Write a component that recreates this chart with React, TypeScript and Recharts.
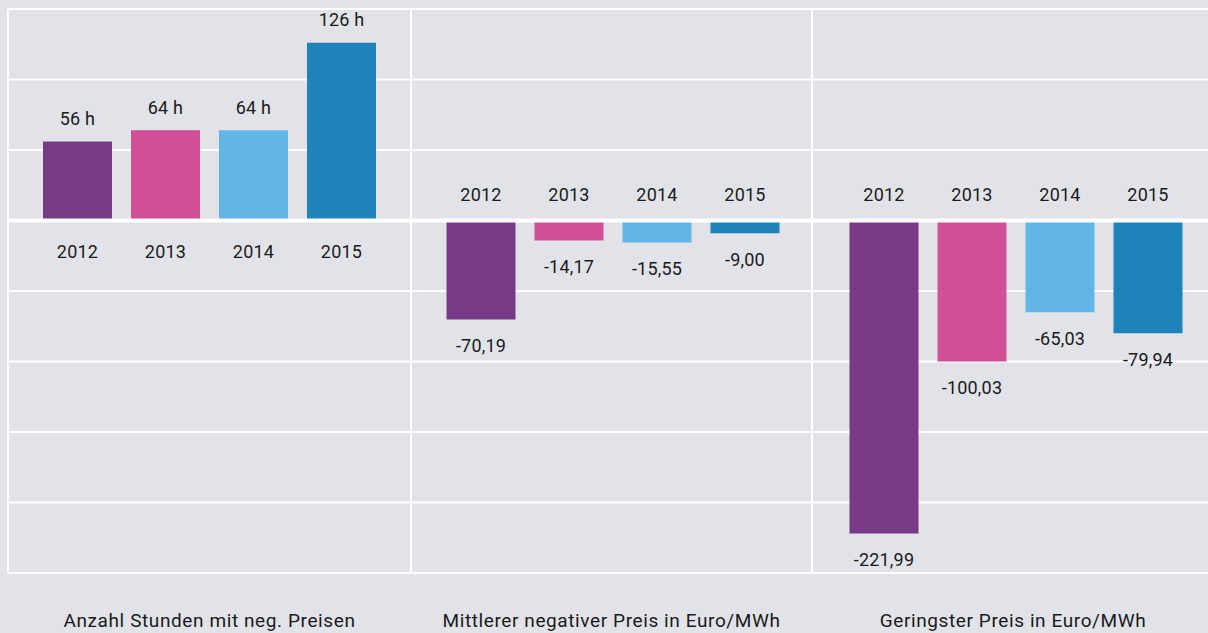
import { BarChart, Bar, XAxis, YAxis, CartesianGrid, ReferenceLine, Cell, LabelList } from "recharts";

const years = ["2012", "2013", "2014", "2015"];
const hoursWithNegativePrices = [56, 64, 64, 126];
const avgNegativePrice = [-70.19, -14.17, -15.55, -9.0];
const lowestPrice = [-221.99, -100.03, -65.03, -79.94];
const panelTitles = [
  "Anzahl Stunden mit neg. Preisen",
  "Mittlerer negativer Preis in Euro/MWh",
  "Geringster Preis in Euro/MWh",
];
const yTicks = [-250, -200, -150, -100, -50, 0, 50, 100, 150];

const BAR_COLORS = ["#763a87", "#d04f96", "#62b6e7", "#1e83b8"];
const BG = "#e2e3e8";
const TEXT = "#1a1a1c";
const FONT = "Roboto, 'Noto Sans', sans-serif";

const fmtHours = (v: number) => `${v} h`;
const fmtEuro = (v: number) => v.toFixed(2).replace(".", ",");

// geometry of the three panels (x of left border, plot width, padding before first band)
const PANELS = [
  { left: 8, width: 403, padLeft: 25 },
  { left: 411, width: 401, padLeft: 25.5 },
  { left: 812, width: 402, padLeft: 27.5 },
];
const BAND = 88;
const AXIS_W = 2;

function box(props: any) {
  const vb = props.viewBox && props.viewBox.width != null ? props.viewBox : props;
  const x = Number(vb.x), y = Number(vb.y), w = Number(vb.width), h = Number(vb.height);
  return { x, w, top: Math.min(y, y + h), bottom: Math.max(y, y + h) };
}

const NoTick = () => <g />;

interface PanelProps {
  index: number;
  values: number[];
  format: (v: number) => string;
}

function Panel({ index, values, format }: PanelProps) {
  const { left, width, padLeft } = PANELS[index];
  const padRight = width - padLeft - BAND * years.length;
  const data = years.map((year, i) => ({ year, value: values[i] }));
  const positive = values[0] >= 0;

  const valueLabel = (props: any) => {
    const { x, w, top, bottom } = box(props);
    const v = Number(props.value);
    const cy = v >= 0 ? top - 23 : bottom + 26;
    return (
      <text x={x + w / 2} y={cy} textAnchor="middle" dominantBaseline="central"
            fontSize={18} fontWeight={400} fill={TEXT} fontFamily={FONT} letterSpacing={0.2}>
        {format(v)}
      </text>
    );
  };

  const yearLabel = (props: any) => {
    const { x, w, top, bottom } = box(props);
    const cy = positive ? bottom + 31 : top - 26;
    return (
      <text x={x + w / 2} y={cy} textAnchor="middle" dominantBaseline="central"
            fontSize={18} fontWeight={400} fill={TEXT} fontFamily={FONT} letterSpacing={0.2}>
        {props.value}
      </text>
    );
  };

  return (
    <>
      <div style={{ position: "absolute", left: left - AXIS_W, top: 0 }}>
        <BarChart width={width + AXIS_W} height={633} data={data}
                  margin={{ top: 9, right: 0, bottom: 60, left: 0 }}>
          <CartesianGrid vertical={false} stroke="#ffffff" strokeWidth={2} />
          <XAxis dataKey="year" hide padding={{ left: padLeft, right: padRight }} />
          <YAxis type="number" domain={[-250, 150]} ticks={yTicks} interval={0} width={AXIS_W}
                 tick={<NoTick />} tickLine={false}
                 axisLine={{ stroke: "#ffffff", strokeWidth: 2 }} />
          <Bar dataKey="value" barSize={69} isAnimationActive={false}>
            {data.map((d, i) => (
              <Cell key={d.year} fill={BAR_COLORS[i]} />
            ))}
            <LabelList dataKey="value" content={valueLabel} />
            <LabelList dataKey="year" content={yearLabel} />
          </Bar>
          <ReferenceLine y={0} stroke="#ffffff" strokeWidth={4} />
        </BarChart>
      </div>
      <div style={{
        position: "absolute", left, top: 609, width, textAlign: "center",
        fontFamily: FONT, fontSize: 19, fontWeight: 400, letterSpacing: "0.6px",
        lineHeight: "24px", color: TEXT,
      }}>
        {panelTitles[index]}
      </div>
    </>
  );
}

export default function App() {
  return (
    <div style={{
      position: "absolute", left: 0, top: 0, width: 1208, height: 633,
      background: BG, overflow: "hidden",
    }}>
      <Panel index={0} values={hoursWithNegativePrices} format={fmtHours} />
      <Panel index={1} values={avgNegativePrice} format={fmtEuro} />
      <Panel index={2} values={lowestPrice} format={fmtEuro} />
    </div>
  );
}
